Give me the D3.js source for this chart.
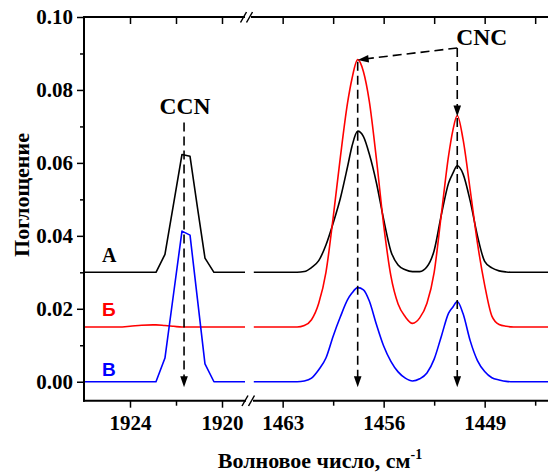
<!DOCTYPE html>
<html><head><meta charset="utf-8">
<script src="https://cdn.jsdelivr.net/npm/d3@7"></script>
<style>
body{margin:0;background:#fff}
svg{display:block}
text{font-family:"Liberation Serif","Times New Roman",serif;font-weight:bold}
</style>
</head><body>
<svg id="c" width="548" height="473"></svg>
<script>
// ---------- data ----------
const leftWn = [1926, 1924.5, 1924, 1923.5, 1923, 1922.87, 1922.48, 1922.1, 1921.74, 1921.39, 1921.07, 1920.74, 1920.35, 1920, 1919];
const leftA  = [0.030, 0.030, 0.030, 0.030, 0.030, 0.030, 0.0349, 0.0490, 0.0623, 0.0618, 0.0479, 0.0339, 0.030, 0.030, 0.030];
const leftB  = [0.015, 0.0150, 0.0152, 0.0155, 0.0156, 0.0156, 0.0154, 0.0152, 0.0150, 0.0150, 0.0150, 0.0150, 0.0150, 0.015, 0.015];
const leftV  = [0, 0, 0, 0, 0, 0, 0.0065, 0.0244, 0.0413, 0.0402, 0.0228, 0.0049, 0, 0, 0];

const rightWn = [1465, 1464, 1463, 1462.5, 1462, 1461.5, 1461, 1460.5, 1460, 1459.5, 1459, 1458.5, 1458.2, 1457.8, 1457.4, 1457, 1456.5, 1456, 1455.5, 1455, 1454.5, 1454, 1453.5, 1453, 1452.5, 1452, 1451.5, 1451.2, 1450.9, 1450.5, 1450, 1449.5, 1449, 1448.5, 1448, 1447.5, 1447, 1446, 1445, 1444.5];
const rightA = [0.030, 0.030, 0.030, 0.030, 0.0300, 0.0302, 0.0313, 0.0332, 0.0375, 0.0435, 0.0503, 0.0590, 0.0645, 0.0687, 0.0672, 0.0625, 0.0545, 0.0445, 0.0358, 0.0320, 0.0307, 0.0302, 0.0302, 0.0315, 0.0360, 0.0458, 0.0545, 0.0572, 0.0592, 0.0570, 0.0495, 0.0400, 0.0330, 0.0312, 0.0304, 0.0301, 0.030, 0.030, 0.030, 0.030];
const rightB = [0.015, 0.015, 0.015, 0.015, 0.0150, 0.0154, 0.0170, 0.0215, 0.0300, 0.0450, 0.0616, 0.0765, 0.0830, 0.0883, 0.0850, 0.0770, 0.0610, 0.0430, 0.0290, 0.0213, 0.0178, 0.0160, 0.0175, 0.0215, 0.0300, 0.0460, 0.0620, 0.0690, 0.0730, 0.0665, 0.0525, 0.0380, 0.0265, 0.0180, 0.0157, 0.0152, 0.0150, 0.015, 0.015, 0.015];
const rightV = [0, 0, 0, 0, 0, 0.0002, 0.0010, 0.0033, 0.0065, 0.0125, 0.0178, 0.0225, 0.0243, 0.0258, 0.0252, 0.0222, 0.0157, 0.0098, 0.0056, 0.0027, 0.0010, 0.0002, 0.0008, 0.0024, 0.0062, 0.0125, 0.0188, 0.0205, 0.0220, 0.0187, 0.0112, 0.0058, 0.0028, 0.0011, 0.0005, 0.0001, 0, 0, 0, 0];

const yTicks = [0, 0.02, 0.04, 0.06, 0.08, 0.10];
const yMinor = [0.01, 0.03, 0.05, 0.07, 0.09];
const leftTicks = [1924, 1920];
const leftMinor = [1922];
const rightTicks = [1463, 1456, 1449];
const rightMinor = [1459.5, 1452.5, 1445.5];

const seriesNames = ["А", "Б", "В"];
const seriesColors = ["#000000", "#ff0000", "#0000ff"];

const ccnWn = 1921.65;
const cncWn = [1457.8, 1450.9];

// ---------- scales ----------
const svg = d3.select("#c");
const y = d3.scaleLinear().domain([-0.0052, 0.1]).range([400.7, 17]);
const xL = d3.scaleLinear().domain([1926, 1919]).range([84, 245]);
const xR = d3.scaleLinear().domain([1465, 1444.5]).range([253.8, 549.6]);

const defs = svg.append("defs");
defs.append("clipPath").attr("id", "cp").append("rect")
  .attr("x", 84).attr("y", 17).attr("width", 470).attr("height", 384);

// ---------- curves ----------
const g = svg.append("g").attr("clip-path", "url(#cp)");
const leftSeries = [leftA, leftB, leftV];
const rightSeries = [rightA, rightB, rightV];
leftSeries.forEach((vals, k) => {
  const line = d3.line().x((d, i) => xL(leftWn[i])).y(d => y(d))
    .curve(k === 1 ? d3.curveMonotoneX : d3.curveLinear);
  g.append("path").attr("d", line(vals)).attr("fill", "none")
    .attr("stroke", seriesColors[k]).attr("stroke-width", 1.6).attr("stroke-linejoin", "round");
});
rightSeries.forEach((vals, k) => {
  const line = d3.line().x((d, i) => xR(rightWn[i])).y(d => y(d)).curve(d3.curveMonotoneX);
  g.append("path").attr("d", line(vals)).attr("fill", "none")
    .attr("stroke", seriesColors[k]).attr("stroke-width", 1.6).attr("stroke-linejoin", "round");
});

// ---------- axes ----------
function styleAxis(sel) {
  sel.select(".domain").remove();
  sel.selectAll(".tick line").attr("stroke", "#000").attr("stroke-width", 1.5);
  sel.selectAll(".tick text").attr("fill", "#000").style("font-size", "21px")
    .style("font-family", '"Liberation Serif","Times New Roman",serif').style("font-weight", "bold");
}
svg.append("g").attr("transform", "translate(84,0)")
  .call(d3.axisLeft(y).tickValues(yTicks).tickSize(7).tickPadding(4).tickFormat(d3.format(".2f")))
  .call(styleAxis);
svg.append("g").attr("transform", "translate(84,0)")
  .call(d3.axisLeft(y).tickValues(yMinor).tickSize(4).tickFormat(""))
  .call(styleAxis);
[[xL, leftTicks, leftMinor], [xR, rightTicks, rightMinor]].forEach(([sc, maj, mn]) => {
  svg.append("g").attr("transform", "translate(0,400.7)")
    .call(d3.axisBottom(sc).tickValues(maj).tickSize(7).tickPadding(7).tickFormat(d3.format("d")))
    .call(styleAxis);
  svg.append("g").attr("transform", "translate(0,400.7)")
    .call(d3.axisBottom(sc).tickValues(mn).tickSize(5).tickFormat(""))
    .call(styleAxis);
  svg.append("g").attr("transform", "translate(0,17)")
    .call(d3.axisBottom(sc).tickValues(maj.concat(mn)).tickSize(7).tickFormat(""))
    .call(styleAxis);
});

const ax = svg.append("g").attr("stroke", "#000").attr("stroke-width", 2).attr("fill", "none");
ax.append("path").attr("d", "M84,16V401.7");
ax.append("path").attr("d", "M83,17H245M251,17H548");
ax.append("path").attr("d", "M83,400.7H246M253,400.7H548");
ax.append("path").attr("stroke-width", 1.5).attr("d",
  "M240.5,22.5L246.5,12M246.5,22.5L252.5,12M242,406L248,395.5M248.5,406L254.5,395.5");

// axis titles
svg.append("text").attr("transform", "translate(29,195) rotate(-90)")
  .attr("text-anchor", "middle").style("font-size", "22px").text("Поглощение");
const xt = svg.append("text").attr("x", 320).attr("y", 468).attr("text-anchor", "middle").style("font-size", "22px");
xt.append("tspan").text("Волновое число, см");
xt.append("tspan").attr("dy", -9).style("font-size", "14px").text("-1");

// series labels
const labelY = [262, 316, 376];
seriesNames.forEach((nm, k) => {
  svg.append("text").attr("x", 102).attr("y", labelY[k]).attr("fill", seriesColors[k])
    .style("font-size", k === 0 ? "20px" : "19px")
    .style("font-family", k === 0 ? '"Liberation Serif",serif' : '"Liberation Sans",Arial,sans-serif')
    .text(nm);
});

// ---------- annotations ----------
const dash = "9,5";
const ann = svg.append("g");
function arrowHead(x1, y1, x2, y2) {
  const a = Math.atan2(y2 - y1, x2 - x1), L = 11, W = 3.8;
  const bx = x2 - L * Math.cos(a), by = y2 - L * Math.sin(a);
  const px = -Math.sin(a) * W, py = Math.cos(a) * W;
  ann.append("path").attr("d", `M${x2},${y2}L${bx + px},${by + py}L${bx - px},${by - py}Z`).attr("fill", "#000");
}
function dashed(x1, y1, x2, y2) {
  ann.append("line").attr("x1", x1).attr("y1", y1).attr("x2", x2).attr("y2", y2)
    .attr("stroke", "#000").attr("stroke-width", 1.6).attr("stroke-dasharray", dash);
}
const xc = xL(ccnWn);
svg.append("text").attr("x", xc + 1).attr("y", 114).attr("text-anchor", "middle").style("font-size", "23.5px").text("CCN");
dashed(xc, y(0.0711), xc, y(-0.0015) - 9);
arrowHead(xc, 300, xc, y(-0.0015));
const x1 = xR(cncWn[0]), x2 = xR(cncWn[1]);
svg.append("text").attr("x", x2 - 1).attr("y", 45).attr("text-anchor", "start").style("font-size", "23.5px").text("CNC");
const cy = y(0.0915);
dashed(x2, cy, x1 + 9, y(0.0883) - 1);
arrowHead(x2, cy, x1, y(0.0883) + 0.3);
dashed(x2, cy, x2, y(-0.0015) - 9);
arrowHead(x2, cy, x2, y(0.0727));
arrowHead(x2, 300, x2, y(-0.0015));
dashed(x1, y(0.0883) + 2, x1, y(-0.0015) - 9);
arrowHead(x1, 300, x1, y(-0.0015));
</script>
</body></html>
